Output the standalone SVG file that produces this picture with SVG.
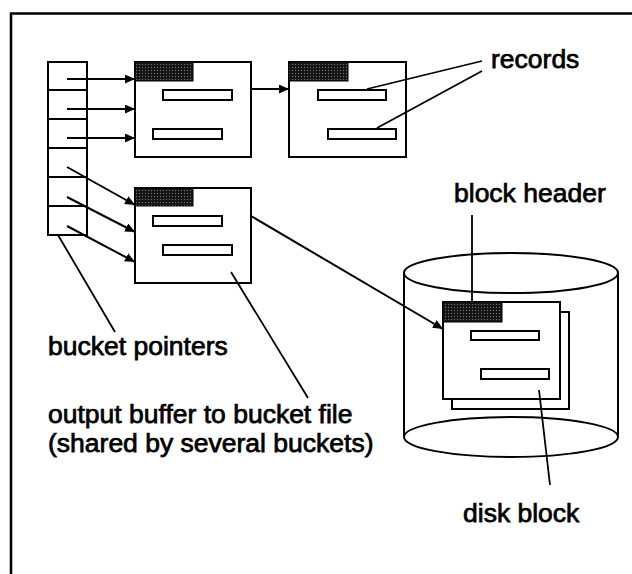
<svg xmlns="http://www.w3.org/2000/svg" width="632" height="574" viewBox="0 0 632 574">
<style>
.box{fill:#fff;stroke:#000;stroke-width:2}
.rec{fill:#fff;stroke:#000;stroke-width:2}
.hdr{fill:url(#stip);stroke:#000;stroke-width:1}
.ln{fill:none;stroke:#000;stroke-width:2}
.lead{fill:none;stroke:#000;stroke-width:1.8}
.arr{fill:none;stroke:#000;stroke-width:2;marker-end:url(#ah)}
.lbl{font-family:"Liberation Sans",Arial,sans-serif;font-size:26.5px;fill:#000;stroke:#000;stroke-width:0.75}
</style>
<defs>
<pattern id="stip" width="3" height="3" patternUnits="userSpaceOnUse">
<rect width="3" height="3" fill="#161616"/>
<rect x="1" y="1" width="1" height="1" fill="#7a7a7a"/>
</pattern>
<marker id="ah" markerUnits="userSpaceOnUse" markerWidth="11" markerHeight="9" refX="10" refY="4.5" orient="auto">
<path d="M0,0 L10,4.5 L0,9 Z" fill="#000"/>
</marker>
</defs>
<rect width="632" height="574" fill="#fff"/>
<g id="frame">
<path d="M11,574 L11,13.5 L632,13.5" fill="none" stroke="#000" stroke-width="2.5"/>
</g>
<g id="bucket-pointers">
<rect class="box" x="48" y="62" width="39" height="173"/>
<path class="ln" d="M48,90 H87 M48,119 H87 M48,148 H87 M48,177 H87 M48,206 H87"/>
</g>
<g id="block1">
<rect class="box" x="135" y="62" width="116" height="95"/>
<rect class="hdr" x="135" y="62" width="58" height="19"/>
<rect class="rec" x="163" y="90" width="69" height="10"/>
<rect class="rec" x="153" y="129" width="69" height="10"/>
</g>
<g id="block2">
<rect class="box" x="289" y="62" width="117" height="95"/>
<rect class="hdr" x="289" y="62" width="59" height="19"/>
<rect class="rec" x="318" y="90" width="68" height="10"/>
<rect class="rec" x="328" y="129" width="68" height="10"/>
</g>
<g id="output-buffer">
<rect class="box" x="135" y="188" width="116" height="95"/>
<rect class="hdr" x="135" y="188" width="58" height="18"/>
<rect class="rec" x="153" y="216" width="69" height="10"/>
<rect class="rec" x="163" y="245" width="69" height="10"/>
</g>
<g id="disk">
<path class="ln" d="M404,273 V437 M618,273 V437"/>
<ellipse class="ln" cx="511" cy="273" rx="107" ry="20"/>
<path class="ln" d="M404,437 A107,20 0 0 0 618,437"/>
<path class="ln" d="M404,437 A107,20 0 0 1 618,437"/>
</g>
<g id="disk-block">
<rect class="box" x="452" y="312" width="117" height="97"/>
<rect class="box" x="443" y="302" width="117" height="97"/>
<rect class="hdr" x="443" y="302" width="59" height="20"/>
<rect class="rec" x="471" y="331" width="68" height="9"/>
<rect class="rec" x="481" y="369" width="68" height="10"/>
</g>
<g id="labels">
<text class="lbl" x="491" y="68">records</text>
<text class="lbl" x="454" y="202">block header</text>
<text class="lbl" x="48" y="355">bucket pointers</text>
<text class="lbl" x="48" y="423">output buffer to bucket file</text>
<text class="lbl" x="48" y="452">(shared by several buckets)</text>
<text class="lbl" x="463" y="522">disk block</text>
</g>
<g id="connectors">
<path class="arr" d="M67,79 H135"/>
<path class="arr" d="M67,109 H135"/>
<path class="arr" d="M67,138 H135"/>
<path class="arr" d="M67,167 L135,205"/>
<path class="arr" d="M67,197 L135,232"/>
<path class="arr" d="M67,226 L135,262"/>
<path class="arr" d="M251,89 H289"/>
<path class="arr" d="M251,216 L443,329"/>
<path class="lead" d="M482,61 L367,89"/>
<path class="lead" d="M482,71 L377,128"/>
<path class="lead" d="M472,302 V215"/>
<path class="lead" d="M58,235 L115,332"/>
<path class="lead" d="M231,272 L308,398"/>
<path class="lead" d="M539,390 L550,485"/>
</g>
</svg>
